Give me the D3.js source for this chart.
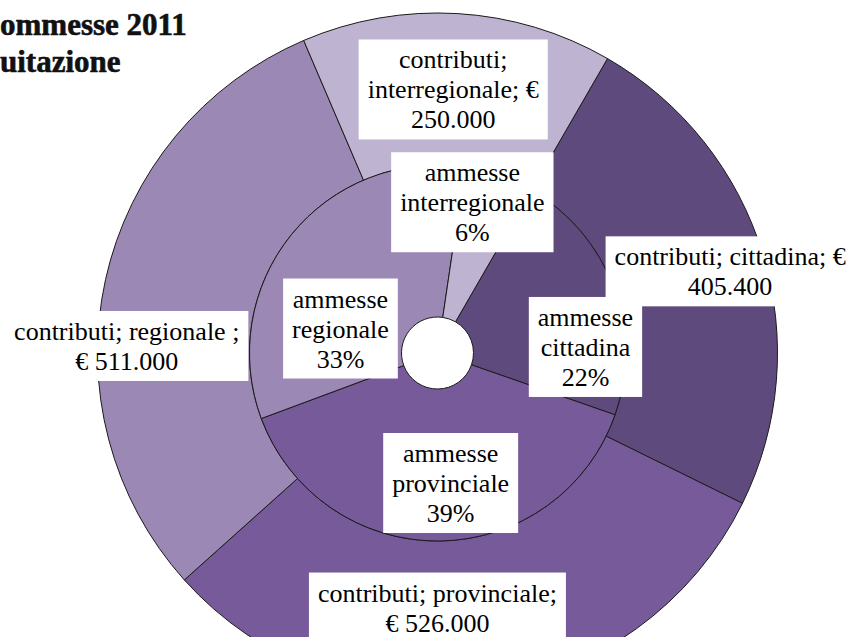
<!DOCTYPE html>
<html>
<head>
<meta charset="utf-8">
<script src="https://cdn.jsdelivr.net/npm/d3@7"></script>
<style>
  html, body { margin: 0; padding: 0; background: #fff; }
  svg { display: block; }
  .lbl, .ttl { font-family: "Liberation Serif", "Times New Roman", serif; }
</style>
</head>
<body>
<svg id="chart" width="853" height="637"></svg>
<script>
// Categories, in drawing order (clockwise from the first slice)
const categories = ["cittadina", "provinciale", "regionale", "interregionale"];
// Outer ring: contributi (€)
const contributi = [405400, 526000, 511000, 250000];
// Inner ring: ammesse (%)
const ammesse = [22, 39, 33, 6];
// Formatted strings shown in the labels
const contributiLabels = ["€ 405.400", "€ 526.000", "€ 511.000", "€ 250.000"];
const titleLines = ["ommesse 2011", "uitazione"];

const colors = ["#5f4a7e", "#765a99", "#9b88b5", "#beb3d0"];

const cx = 437.5, cy = 353;
const rHole = 36, rMid = 188, rOuter = 340;
const firstAngle = 30 * Math.PI / 180;

const svg = d3.select("#chart");
const g = svg.append("g").attr("transform", `translate(${cx},${cy})`);

const pie = d3.pie().sort(null)
  .startAngle(firstAngle)
  .endAngle(firstAngle + 2 * Math.PI);

const innerArc = d3.arc().innerRadius(rHole).outerRadius(rMid);
const outerArc = d3.arc().innerRadius(rMid).outerRadius(rOuter);

const innerData = pie(ammesse);
const outerData = pie(contributi);

g.selectAll("path.outer").data(outerData).join("path")
  .attr("class", "outer")
  .attr("d", outerArc)
  .attr("fill", (d, i) => colors[i])
  .attr("stroke", "#1b1b1b")
  .attr("stroke-width", 1);

g.selectAll("path.inner").data(innerData).join("path")
  .attr("class", "inner")
  .attr("d", innerArc)
  .attr("fill", (d, i) => colors[i])
  .attr("stroke", "#1b1b1b")
  .attr("stroke-width", 1);

// Label text for each ring
const outerText = categories.map((c, i) => {
  if (c === "interregionale") return ["contributi;", "interregionale; €", contributiLabels[i].replace("€ ", "")];
  if (c === "cittadina") return ["contributi; cittadina; €", contributiLabels[i].replace("€ ", "")];
  if (c === "regionale") return ["contributi; regionale ;", contributiLabels[i]];
  return ["contributi; " + c + ";", contributiLabels[i]];
});
const innerText = categories.map((c, i) => ["ammesse", c, ammesse[i] + "%"]);

// Label placement: offsets from each slice's centroid
const outerOffsets = [[40, -5], [-36, -7], [-53, 50], [0, 0]];
const innerOffsets = [[43, 33], [12, 18], [-10, 46], [-2, -45]];

const fontSize = 26, lineH = 30, padX = 9, padY = 6;

function drawLabel(lines, x, y) {
  const lg = g.append("g").attr("transform", `translate(${x},${y})`);
  const rect = lg.append("rect").attr("fill", "#fff");
  const t = lg.append("text")
    .attr("class", "lbl")
    .attr("text-anchor", "middle")
    .attr("font-size", fontSize)
    .attr("fill", "#000");
  const n = lines.length;
  lines.forEach((s, k) => {
    t.append("tspan").attr("x", 0)
      .attr("y", (k - (n - 1) / 2) * lineH + 9)
      .text(s);
  });
  const bb = t.node().getBBox();
  const h = n * lineH + 2 * padY - 2;
  rect.attr("x", bb.x - padX).attr("width", bb.width + 2 * padX)
    .attr("y", -h / 2).attr("height", h);
}

outerData.forEach((d, i) => {
  const [x, y] = outerArc.centroid(d);
  drawLabel(outerText[i], x + outerOffsets[i][0], y + outerOffsets[i][1]);
});
innerData.forEach((d, i) => {
  const [x, y] = innerArc.centroid(d);
  drawLabel(innerText[i], x + innerOffsets[i][0], y + innerOffsets[i][1]);
});

// Title in the top-left corner
svg.append("g").selectAll("text").data(titleLines).join("text")
  .attr("class", "ttl")
  .attr("x", 0)
  .attr("y", (d, i) => 35 + i * 37)
  .attr("font-weight", "bold")
  .attr("font-size", 31)
  .attr("fill", "#111")
  .attr("stroke", "#111")
  .attr("stroke-width", 0.6)
  .text(d => d);
</script>
</body>
</html>
